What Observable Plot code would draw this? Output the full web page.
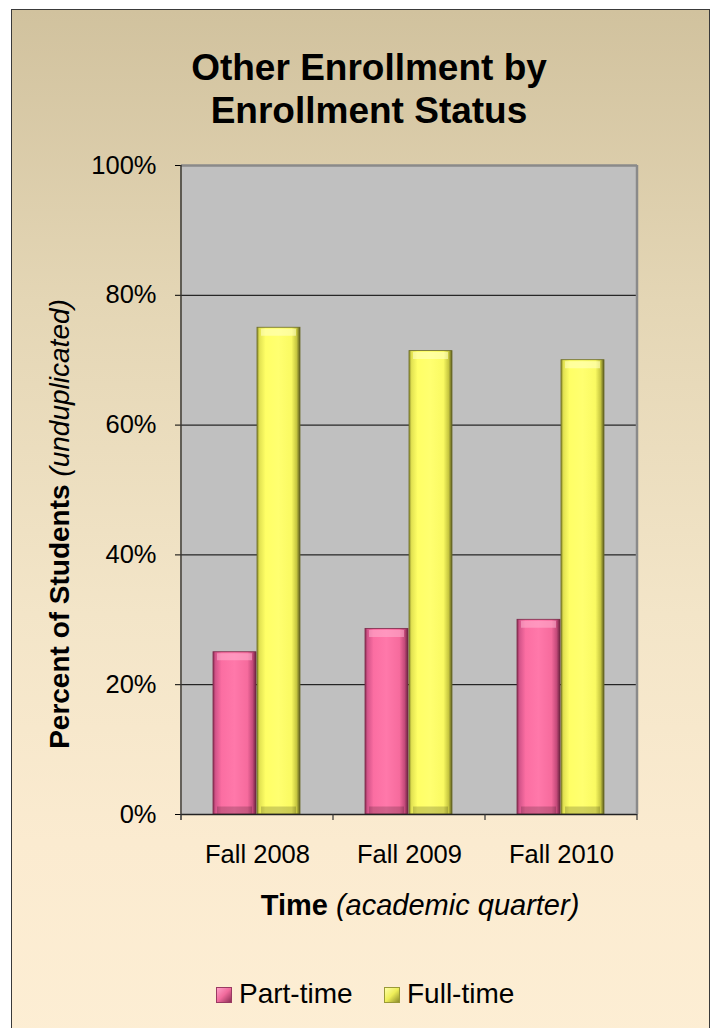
<!DOCTYPE html>
<html>
<head>
<meta charset="utf-8">
<script src="https://cdn.jsdelivr.net/npm/d3@7"></script>
<script src="https://cdn.jsdelivr.net/npm/@observablehq/plot@0.6"></script>
<style>
  body { margin: 0; background: #fff; }
  #wrap { position: relative; width: 718px; height: 1028px; overflow: hidden; background: #fff;
          font-family: "Liberation Sans", Arial, sans-serif; color: #000; }
  #box { position: absolute; left: 11px; top: 9px; width: 697px; height: 1040px;
         border: 1.5px solid #3a3a3a;
         background: linear-gradient(to bottom, #d1c29e 0%, #e4d6b5 28%, #f3e5c8 58%, #fbebd0 80%, #fdeed4 100%); }
  #title { position: absolute; left: 0; top: 46px; width: 738px; text-align: center;
           font-weight: bold; font-size: 37px; line-height: 43px; }
  #ytitle { position: absolute; left: -240px; top: 507px; width: 600px; height: 34px;
            line-height: 34px; font-size: 28px; text-align: center; white-space: nowrap;
            transform: rotate(-90deg); transform-origin: 50% 50%; }
  #xtitle { position: absolute; left: 0; top: 888px; width: 840px; line-height: 34px;
            font-size: 29px; text-align: center; white-space: nowrap; }
  .lg-text { position: absolute; top: 978px; font-size: 28px; line-height: 32px; white-space: nowrap; }
  .lg-sw { position: absolute; top: 987px; width: 16px; height: 16px; box-sizing: border-box; }
  #chart { position: absolute; left: 0; top: 0; }
</style>
</head>
<body>
<svg width="0" height="0" style="position:absolute">
  <defs>
    <linearGradient id="gPink" x1="0" x2="1" y1="0" y2="0">
      <stop offset="0" stop-color="#8e2f56"/>
      <stop offset="0.06" stop-color="#d4548a"/>
      <stop offset="0.2" stop-color="#fb6ea2"/>
      <stop offset="0.5" stop-color="#ff78aa"/>
      <stop offset="0.8" stop-color="#f66b9d"/>
      <stop offset="0.92" stop-color="#c44a7a"/>
      <stop offset="1" stop-color="#6a2340"/>
    </linearGradient>
    <linearGradient id="gYellow" x1="0" x2="1" y1="0" y2="0">
      <stop offset="0" stop-color="#8d8d2c"/>
      <stop offset="0.06" stop-color="#e2e252"/>
      <stop offset="0.2" stop-color="#ffff66"/>
      <stop offset="0.5" stop-color="#ffff70"/>
      <stop offset="0.8" stop-color="#fafa62"/>
      <stop offset="0.92" stop-color="#c6c640"/>
      <stop offset="1" stop-color="#5a5a1e"/>
    </linearGradient>
  </defs>
</svg>
<div id="wrap">
  <div id="box"></div>
  <div id="title">Other Enrollment by<br>Enrollment Status</div>
  <div id="chart"></div>
  <div id="ytitle"><b>Percent of Students</b> <i>(unduplicated)</i></div>
  <div id="xtitle"><b>Time</b> <i>(academic quarter)</i></div>
  <div class="lg-sw" style="left:216px;background:linear-gradient(135deg,#ffa0c8 0%,#f06a9c 50%,#8e2f56 100%);border:1px solid #9a3a62"></div>
  <div class="lg-text" style="left:239px">Part-time</div>
  <div class="lg-sw" style="left:384px;background:linear-gradient(135deg,#ffffa8 0%,#eeee58 50%,#8d8d2c 100%);border:1px solid #9a9a38"></div>
  <div class="lg-text" style="left:407px">Full-time</div>
</div>
<script>
// ---- data ----
const years = ["Fall 2008", "Fall 2009", "Fall 2010"];
const series = ["Part-time", "Full-time"];
const partTime = [25, 28.6, 30];
const fullTime = [75, 71.4, 70];
const yTicks = [0, 20, 40, 60, 80, 100];
const gridTicks = [20, 40, 60, 80];

const partData = years.map((yr, i) => ({year: yr, series: series[0], value: partTime[i]}));
const fullData = years.map((yr, i) => ({year: yr, series: series[1], value: fullTime[i]}));
const allData = partData.concat(fullData);

const plot = Plot.plot({
  width: 718,
  height: 940,
  marginLeft: 180,
  marginRight: 81,
  marginTop: 165,
  marginBottom: 126,
  style: {background: "transparent", fontFamily: "Liberation Sans, Arial, sans-serif",
          fontSize: "25.5px", color: "#000", overflow: "visible"},
  fx: {domain: years, padding: 0, axis: "bottom", tickSize: 0, tickPadding: 30, label: null},
  x: {domain: series, paddingInner: 0.022, paddingOuter: 0.71, axis: null, label: null},
  y: {domain: [0, 100], ticks: yTicks, tickFormat: d => d + "%", tickSize: 6, tickPadding: 19,
      label: null, axis: "left"},
  marks: [
    Plot.frame({fill: "#c0c0c0", stroke: "none", shapeRendering: "crispEdges"}),
    Plot.ruleY(gridTicks, {stroke: "#000", strokeWidth: 1}),
    Plot.ruleY([100], {stroke: "#8a8a8a", strokeWidth: 2.5}),
    Plot.barY(partData, {fx: "year", x: "series", y: "value", fill: "url(#gPink)",
                         stroke: "#7a2848", strokeWidth: 0.8}),
    Plot.barY(fullData, {fx: "year", x: "series", y: "value", fill: "url(#gYellow)",
                         stroke: "#6a6a24", strokeWidth: 0.8}),
    Plot.tickY(partData, {fx: "year", x: "series", y: "value", dy: 4.5, stroke: "#ffb0d0",
                          strokeWidth: 7, strokeOpacity: 0.55, inset: 4}),
    Plot.tickY(fullData, {fx: "year", x: "series", y: "value", dy: 4.5, stroke: "#ffffc0",
                          strokeWidth: 7, strokeOpacity: 0.6, inset: 4}),
    Plot.tickY(allData, {fx: "year", x: "series", y: () => 0, dy: -4.5, stroke: "#000",
                         strokeWidth: 7, strokeOpacity: 0.18, inset: 4}),
    Plot.ruleY([0], {stroke: "#222", strokeWidth: 1.5})
  ]
});
document.getElementById("chart").appendChild(plot);

// plot-area edges and category boundary ticks, placed with the plot's own scales
try {
  const svg = d3.select(plot.tagName.toLowerCase() === "svg" ? plot : plot.querySelector("svg"));
  const fx = plot.scale("fx"), ys = plot.scale("y");
  const bw = fx.bandwidth;
  const starts = years.map(y => fx.apply(y));
  const x0 = starts[0], x1 = starts[starts.length - 1] + bw;
  const yb = ys.apply(0), yt = ys.apply(100);
  const g = svg.append("g");
  g.append("line").attr("x1", x1).attr("x2", x1).attr("y1", yt).attr("y2", yb)
    .attr("stroke", "#8a8a8a").attr("stroke-width", 2.5);
  g.append("line").attr("x1", x0).attr("x2", x0).attr("y1", yt).attr("y2", yb + 6)
    .attr("stroke", "#333").attr("stroke-width", 1.5);
  starts.slice(1).concat([x1]).forEach(x => {
    g.append("line").attr("x1", x).attr("x2", x).attr("y1", yb).attr("y2", yb + 6)
      .attr("stroke", "#333").attr("stroke-width", 1.2);
  });
} catch (e) { console.error(e); }
</script>
</body>
</html>
